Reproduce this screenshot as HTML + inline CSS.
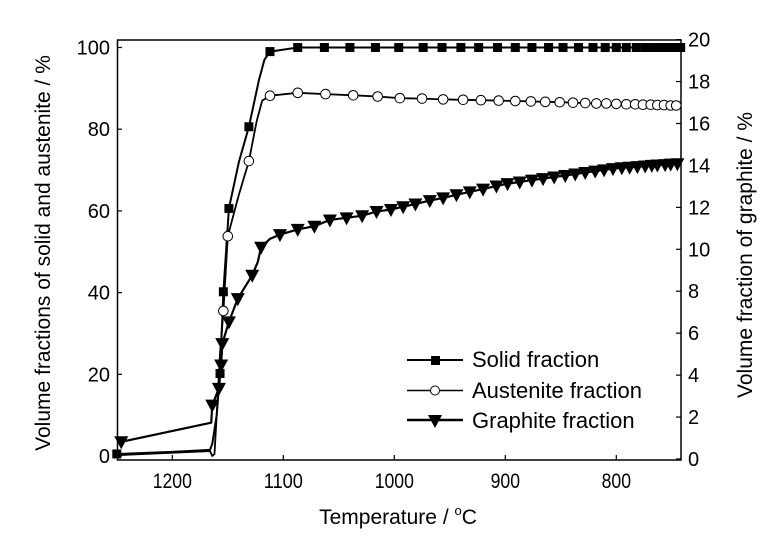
<!DOCTYPE html>
<html><head><meta charset="utf-8"><style>
html,body{margin:0;padding:0;background:#fff;}
svg{display:block;font-family:"Liberation Sans",Arial,sans-serif;}
</style></head><body>
<svg id="chart" width="768" height="538" viewBox="0 0 768 538" xmlns="http://www.w3.org/2000/svg">
<rect x="117.5" y="40" width="563.5" height="420" fill="none" stroke="#000" stroke-width="1.5"/>
<g id="axes"></g>
<g id="series"></g>
<g id="legend">
  <line x1="407" y1="360" x2="463" y2="360" stroke="#000" stroke-width="2"/>
  <rect x="431" y="356" width="9" height="9" fill="#000"/>
  <text x="472" y="367" font-size="22">Solid fraction</text>
  <line x1="407" y1="390.5" x2="463" y2="390.5" stroke="#000" stroke-width="1.5"/>
  <circle cx="435" cy="390.5" r="4.5" fill="#fff" stroke="#000" stroke-width="1"/>
  <text x="472" y="398" font-size="22">Austenite fraction</text>
  <line x1="407" y1="420" x2="463" y2="420" stroke="#000" stroke-width="2.5"/>
  <path d="M428,415 L442,415 L435,428 Z" fill="#000"/>
  <text x="472" y="428" font-size="22">Graphite fraction</text>
</g>
<text x="398" y="524" font-size="21" text-anchor="middle">Temperature / <tspan font-size="13" dy="-9">o</tspan><tspan dy="9">C</tspan></text>
<text transform="translate(50,253) rotate(-90)" font-size="21" text-anchor="middle">Volume fractions of solid and austenite / %</text>
<text transform="translate(752,255) rotate(-90)" font-size="21" text-anchor="middle">Volume fraction of graphite / %</text>
</svg>
<script>
const xTicks=[1200,1100,1000,900,800];
const yLeftTicks=[0,20,40,60,80,100];
const yRightTicks=[0,2,4,6,8,10,12,14,16,18,20];

const solidLineT=[1250,1200,1166,1164,1160,1140,1122,1117];
const solidLineV=[0.5,1.0,1.5,3,10,72,92,97];
const solidMarkT=[1250,1157,1154,1149,1131,1112,1087,1063,1040,1017,996,974,957,940,924,907,891,876,861,848,834,821,810,800,791,782,774,766,759,752,745,742];
const solidMarkV=[0.5,20.2,40.2,60.6,80.6,99,100,100,100,100,100,100,100,100,100,100,100,100,100,100,100,100,100,100,100,100,100,100,100,100,100,100];

const austLineT=[1250,1166,1164,1162,1160,1157,1140,1124,1119];
const austLineV=[0.2,1.2,0,0.5,10,25,64,82,87];
const austMarkT=[1154,1150,1131,1112,1087,1062,1037,1015,995,975,956,938,922,906,891,877,864,851,839,828,818,809,800,791,783,776,769,763,757,751,746];
const austMarkV=[35.5,53.8,72.2,88.2,88.9,88.6,88.3,88.0,87.6,87.5,87.3,87.2,87.1,87.0,86.9,86.8,86.7,86.6,86.5,86.4,86.3,86.3,86.2,86.1,86.1,86.0,86.0,85.9,85.9,85.8,85.8];

const grLineT=[1165,1123,1112];
const grLineV=[1.73,9.4,10.5];
const grMarkT=[1246,1164,1158,1156,1155,1149,1141,1128,1120,1103,1087,1072,1058,1043,1029,1016,1003,992,981,968,956,944,932,920,908,898,887,876,866,856,846,837,828,819,811,803,795,788,781,774,768,763,756,751,745];
const grMarkV=[0.82,2.57,3.37,4.48,5.5,6.54,7.65,8.76,10.1,10.7,10.95,11.1,11.4,11.5,11.6,11.8,11.9,12.03,12.16,12.32,12.45,12.6,12.74,12.87,13.02,13.13,13.21,13.3,13.37,13.45,13.52,13.59,13.66,13.73,13.79,13.85,13.89,13.91,13.94,13.97,14.0,14.02,14.04,14.06,14.08];

const NS='http://www.w3.org/2000/svg';
const X=t=>172.3+(1200-t)*1.11;
const YL=v=>456-v*4.085;
const YR=v=>459-v*20.97;
const axes=document.getElementById('axes');
const series=document.getElementById('series');
function mk(tag,attrs,parent){const e=document.createElementNS(NS,tag);for(const k in attrs)e.setAttribute(k,attrs[k]);parent.appendChild(e);return e;}

xTicks.forEach(t=>{
  const l=mk('line',{x1:X(t),x2:X(t),y1:460,y2:455,stroke:'#000','stroke-width':1.2},axes);
  
  
  const s=String(t);
  const tx=mk('text',{x:X(t),y:488,'font-size':21,'text-anchor':'middle',textLength:s.length*9.8,lengthAdjust:'spacingAndGlyphs'},axes);
  tx.textContent=s;
  
  
});
yLeftTicks.forEach(v=>{
  const l=mk('line',{x1:117.5,x2:122,y1:YL(v),y2:YL(v),stroke:'#000','stroke-width':1.2},axes);
  
  
  const tx=mk('text',{x:110,y:YL(v)+7,'font-size':20,'text-anchor':'end'},axes);
  tx.textContent=v;
  
  
});
yRightTicks.forEach(v=>{
  const l=mk('line',{x1:676,x2:681,y1:YR(v),y2:YR(v),stroke:'#000','stroke-width':1.2},axes);
  
  
  const tx=mk('text',{x:688,y:YR(v)+7,'font-size':20,'text-anchor':'start'},axes);
  tx.textContent=v;
  
  
});

function merged(lt,lv,mt,mv){const p=[];lt.forEach((t,i)=>p.push([t,lv[i]]));mt.forEach((t,i)=>p.push([t,mv[i]]));p.sort((a,b)=>b[0]-a[0]);return p;}
function drawLine(pts,Y,w,name){
  const d=pts.map((p,i)=>(i?'L':'M')+X(p[0]).toFixed(1)+','+Y(p[1]).toFixed(1)).join(' ');
  const e=mk('path',{d:d,fill:'none',stroke:'#000','stroke-width':w,'stroke-linejoin':'round'},series);
  
  
}
drawLine(merged(solidLineT,solidLineV,solidMarkT,solidMarkV),YL,2,'solid-fraction-line');
drawLine(merged(austLineT,austLineV,austMarkT,austMarkV),YL,1.8,'austenite-fraction-line');
drawLine(merged(grLineT,grLineV,grMarkT,grMarkV),YR,2.2,'graphite-fraction-line');

solidMarkT.forEach((t,i)=>{
  const e=mk('rect',{x:X(t)-4.5,y:YL(solidMarkV[i])-4.5,width:9,height:9,fill:'#000'},series);
  
  
});
austMarkT.forEach((t,i)=>{
  const e=mk('circle',{cx:X(t),cy:YL(austMarkV[i]),r:4.8,fill:'#fff',stroke:'#000','stroke-width':1},series);
  
  
});
grMarkT.forEach((t,i)=>{
  const x=X(t),y=YR(grMarkV[i]);
  const e=mk('path',{d:`M${x-7},${y-5.5} L${x+7},${y-5.5} L${x},${y+7.5} Z`,fill:'#000'},series);
  
  
});
</script>
</body></html>
